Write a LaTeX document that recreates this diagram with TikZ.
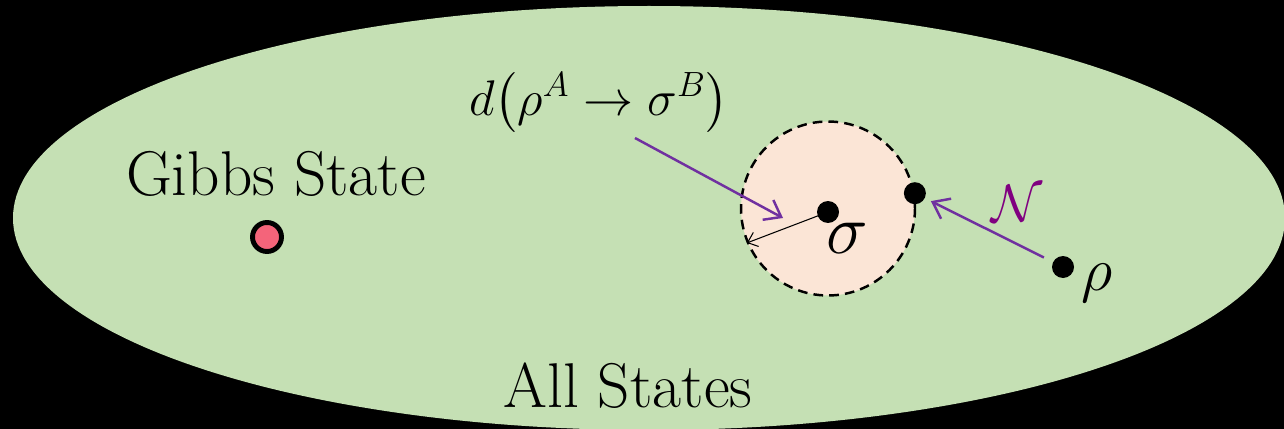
\documentclass[tikz,border=0pt]{standalone}
\usepackage{fix-cm}
\usepackage{amsmath}
\usepackage{amssymb}
\usepackage{xcolor}
\usepackage{tikz}
\usetikzlibrary{arrows.meta,positioning,calc}

\definecolor{stategreen}{HTML}{C5E0B4}
\definecolor{ballpeach}{HTML}{FBE5D6}
\definecolor{gibbspink}{HTML}{F4647A}
\definecolor{chanpurple}{HTML}{7030A0}
\definecolor{calpurple}{HTML}{800080}

\begin{document}
\begin{tikzpicture}[x=0.02cm, y=-0.02cm,
    dot/.style={circle, fill=black, inner sep=0pt, minimum size=0.44cm},
    bigtext/.style={font=\rmfamily\fontsize{36}{40}\selectfont},
    chan/.style={draw=chanpurple, line width=1.4pt, -{Straight Barb[length=0.3cm, width=0.45cm]}}]
\useasboundingbox (0,0) rectangle (1284,429);
\fill[black] (0,0) rectangle (1284,429);
\fill[stategreen] (649,218) ellipse [x radius=636, y radius=212];

% Gibbs state
\node[bigtext, anchor=base] (gibbslab) at (276,195) {Gibbs State};
\node[circle, draw, line width=2.8pt, fill=gibbspink, minimum size=0.58cm, inner sep=0pt] (gibbs) at (267,237) {};

% ball around sigma
\node[circle, draw, fill=ballpeach, minimum size=3.48cm, inner sep=0pt, line width=1.4pt,
    dash pattern=on 5.5pt off 3.5pt] (ball) at (828,208.5) {};
\node[dot] (sigma) at (828,212) {};
\draw[line width=0.6pt, -{Straight Barb[length=0.18cm, width=0.3cm]}] (sigma.center) -- (ball.203);
\node[font=\fontsize{40}{44}\selectfont] (siglab) at (847,238) {$\sigma$};
\node[dot] (edge) at (ball.10) {};

% distance label
\node[font=\fontsize{28.5}{31}\selectfont, anchor=base] (dist) at (599,115) {$d\bigl(\rho^A\to\sigma^B\bigr)$};
\coordinate (dstart) at (635,138);
\coordinate (dend) at (783,218);
\draw[chan] (dstart) -- (dend);

% rho and channel
\node[dot] (rho) at (1063,267) {};
\node[font=\fontsize{35}{38}\selectfont] (rholab) at (1097,283) {$\rho$};
\draw[chan, shorten <=0.2cm, shorten >=0.13cm] (rho) -- (edge);
\node[font=\fontsize{30}{33}\selectfont, text=calpurple] (chanlab) at (1017,203) {$\mathcal{N}$};

\node[bigtext, anchor=base] (all) at (628,407) {All States};
\end{tikzpicture}
\end{document}
